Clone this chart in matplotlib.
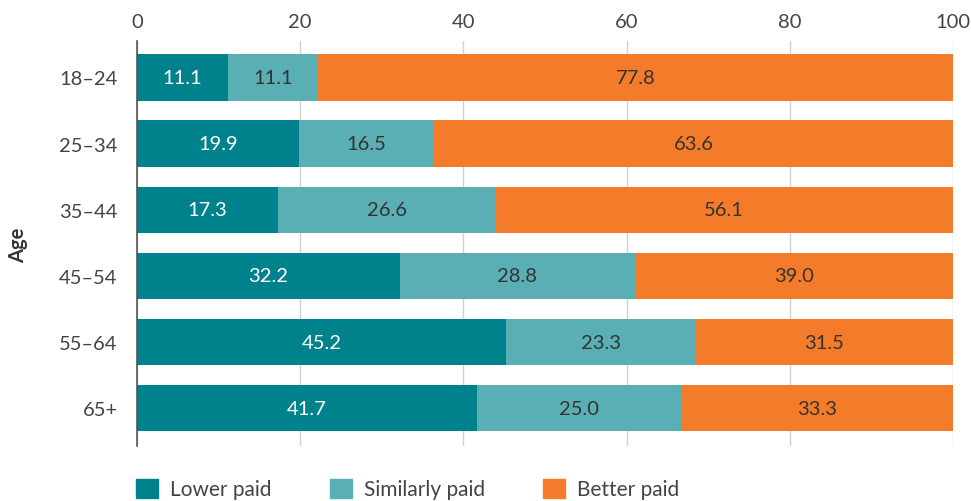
import matplotlib
matplotlib.use("Agg")
import matplotlib.pyplot as plt
from matplotlib.patches import Patch

plt.rcParams['font.family'] = ['Lato', 'DejaVu Sans']

# data
ages = ["18–24", "25–34", "35–44", "45–54", "55–64", "65+"]
lower_paid = [11.1, 19.9, 17.3, 32.2, 45.2, 41.7]
similarly_paid = [11.1, 16.5, 26.6, 28.8, 23.3, 25.0]
better_paid = [77.8, 63.6, 56.1, 39.0, 31.5, 33.3]
series_names = ["Lower paid", "Similarly paid", "Better paid"]
colors = ["#00828C", "#5AAFB5", "#F47B2A"]
label_colors = ["white", "#333333", "#333333"]
text_col = "#444444"
fs = 14.5

fig = plt.figure(figsize=(9.71, 5.02), dpi=100)
ax = fig.add_axes([137 / 971, 55 / 502, 816 / 971, 405 / 502])

ypos = list(range(len(ages)))
left = [0.0] * len(ages)
for vals, c, lc in zip([lower_paid, similarly_paid, better_paid], colors, label_colors):
    bars = ax.barh(ypos, vals, left=left, height=0.7, color=c, zorder=3)
    for b, v in zip(bars, vals):
        ax.text(b.get_x() + b.get_width() / 2, b.get_y() + b.get_height() / 2,
                f"{v:.1f}", ha="center", va="center", color=lc, fontsize=fs, zorder=4)
    left = [l + v for l, v in zip(left, vals)]

ax.set_xlim(0, 100)
ax.set_ylim(5.57, -0.55)
ax.set_xticks([0, 20, 40, 60, 80, 100])
ax.xaxis.tick_top()
ax.tick_params(axis="x", length=0, pad=8, labelsize=fs, labelcolor=text_col)
ax.set_yticks(ypos)
ax.set_yticklabels(ages)
ax.tick_params(axis="y", length=0, pad=14, labelsize=fs, labelcolor=text_col)
ax.grid(axis="x", color="#D0D0D0", linewidth=1, zorder=0)
for s in ["top", "right", "bottom"]:
    ax.spines[s].set_visible(False)
ax.spines["left"].set_color("#555555")
ax.spines["left"].set_linewidth(1.2)
ax.spines["left"].set_zorder(5)

fig.text(18 / 971, 1 - 245 / 502, "Age", rotation=90, ha="center", va="center",
         fontsize=fs, fontweight="bold", color="#333333")

handles = [Patch(color=c) for c in colors]
fig.legend(handles, series_names, loc="center left", bbox_to_anchor=(136 / 971, 1 - 490 / 502),
           ncol=3, frameon=False, fontsize=15, handlelength=1.05, handleheight=1.05,
           columnspacing=2.8, handletextpad=0.58, labelcolor=text_col,
           borderpad=0, borderaxespad=0)

fig.savefig("out.png", dpi=100)
